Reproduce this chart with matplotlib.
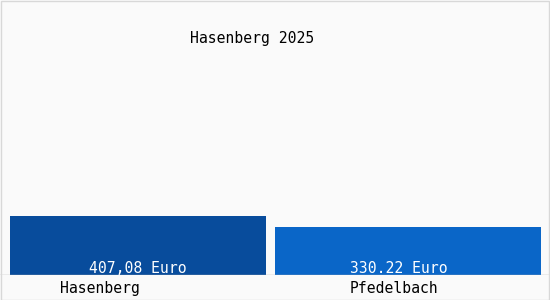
import matplotlib
matplotlib.use("Agg")
import matplotlib.pyplot as plt
from matplotlib.patches import Rectangle

title = "Hasenberg 2025"
categories = ["Hasenberg", "Pfedelbach"]
values = [407.08, 330.22]
value_labels = ["407,08 Euro", "330.22 Euro"]
colors = ["#084c9c", "#0a66c8"]

W, H = 550, 300
fig = plt.figure(figsize=(W / 100, H / 100), dpi=100)
fig.patch.set_facecolor("#fafafa")

# axes: full width, bottom at axis line (y=275 px from top)
ax = fig.add_axes([0, 25 / H, 1, 275 / H])
ax.set_facecolor("#fafafa")
px_per_unit = 270.0
ax.set_xlim(-138 / px_per_unit, (W - 138) / px_per_unit)
ax.set_ylim(0, 1898)
xs = list(range(len(categories)))
ax.bar(xs, values, width=[0.948, 0.985], color=colors, zorder=2)
for s in ax.spines.values():
    s.set_visible(False)
ax.set_xticks([])
ax.set_yticks([])
ax.axhline(0, color="#b0b0b0", lw=1.0, zorder=3)

mono = "DejaVu Sans Mono"
fs = 10.6
for x, lab, off in zip(xs, value_labels, [0, -9]):
    ax.annotate(lab, (x, 0), xytext=(off * 0.72, 5), textcoords="offset points",
                ha="center", va="center", color="white", family=mono, fontsize=fs, zorder=4)
for x, lab, off in zip(xs, categories, [-38, -14]):
    ax.annotate(lab, (x, 0), xytext=(off * 0.72, -10), textcoords="offset points",
                ha="center", va="center", color="black", family=mono, fontsize=fs,
                annotation_clip=False)

fig.text(252 / W, 1 - 38 / H, title, ha="center", va="center", family=mono,
         fontsize=fs, color="black")

# light frame
fig.patches.append(Rectangle((0.5 / W, 0.5 / H), (W - 1.5) / W, (H - 1.5) / H,
                             transform=fig.transFigure, fill=False,
                             edgecolor="#d8d8d8", lw=1.0))

fig.savefig("out.png", dpi=100, facecolor=fig.get_facecolor())
